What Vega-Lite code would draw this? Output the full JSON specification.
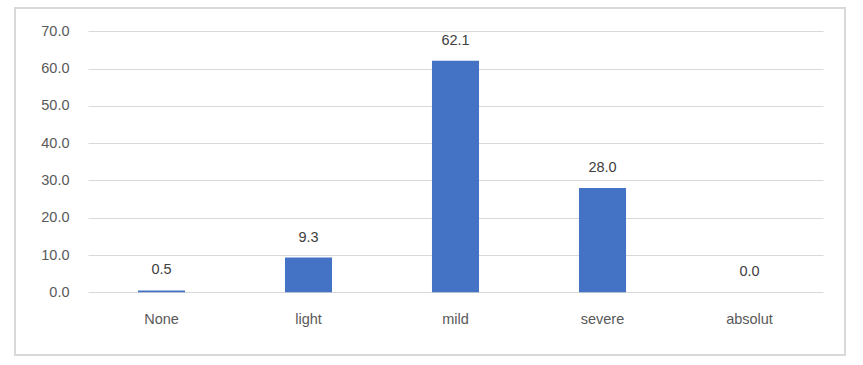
{
  "$schema": "https://vega.github.io/schema/vega-lite/v6.json",
  "autosize": {"type": "none"},
  "width": 830,
  "height": 347,
  "padding": {"left": 15, "top": 8, "right": 18, "bottom": 10},
  "background": "white",
  "config": {
    "view": {"stroke": "#d9d9d9", "strokeWidth": 2},
    "font": "Liberation Sans",
    "axis": {"labelFont": "Liberation Sans", "labelFontSize": 14.5, "labelColor": "#595959"}
  },
  "data": {
    "values": [
      {"category": "None", "value": 0.5},
      {"category": "light", "value": 9.3},
      {"category": "mild", "value": 62.1},
      {"category": "severe", "value": 28.0},
      {"category": "absolut", "value": 0.0}
    ]
  },
  "encoding": {
    "x": {
      "field": "category",
      "type": "nominal",
      "sort": null,
      "scale": {"range": [73, 808], "paddingInner": 0.68, "paddingOuter": 0.34},
      "axis": {"title": null, "domain": false, "ticks": false, "labelAngle": 0, "labelPadding": 20, "offset": -62.7, "grid": false}
    },
    "y": {
      "field": "value",
      "type": "quantitative",
      "scale": {"domain": [0, 70], "range": [284.3, 23.3], "nice": false, "zero": true},
      "axis": {"title": null, "domain": false, "ticks": false, "values": [0, 10, 20, 30, 40, 50, 60, 70], "format": ".1f", "labelPadding": 19, "offset": -73, "grid": true, "gridColor": "#d9d9d9", "gridWidth": 1}
    }
  },
  "layer": [
    {"mark": {"type": "bar", "color": "#4472C4"}},
    {
      "mark": {"type": "text", "dy": -20, "fontSize": 14.5, "color": "#404040", "font": "Liberation Sans"},
      "encoding": {"text": {"field": "value", "type": "quantitative", "format": ".1f"}}
    }
  ]
}
